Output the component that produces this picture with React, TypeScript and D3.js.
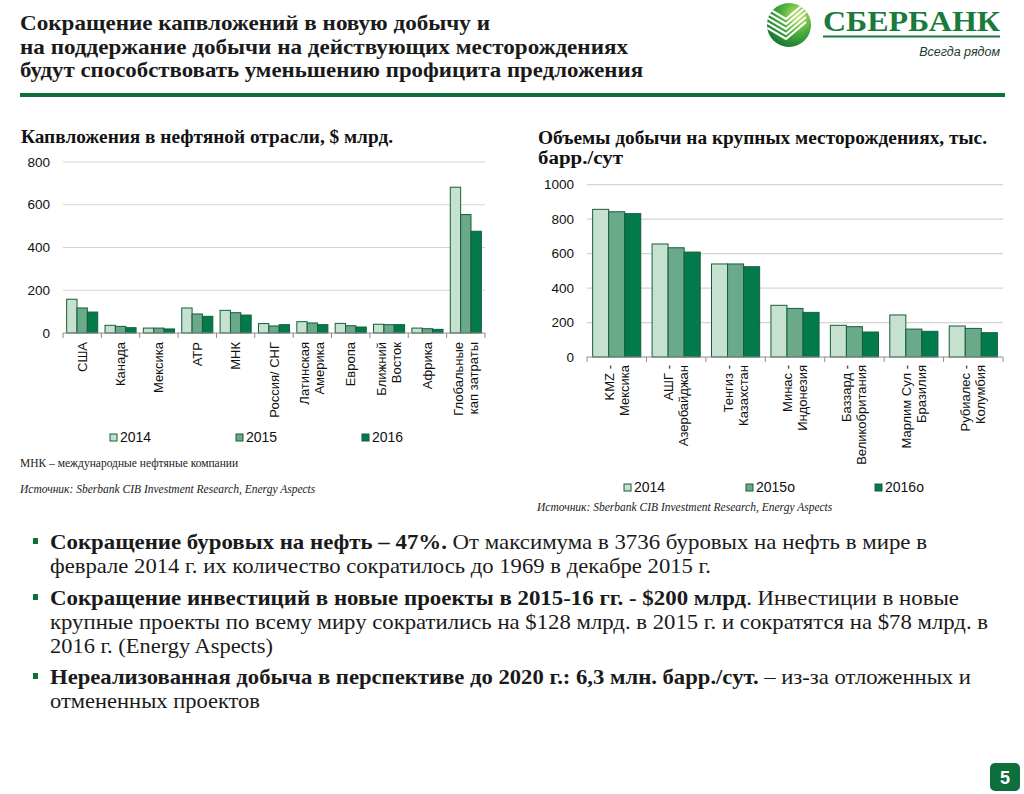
import React from "react";
import * as d3 from "d3";

// ---------- Data ----------
const capexCategories = [
  ["США"],
  ["Канада"],
  ["Мексика"],
  ["АТР"],
  ["МНК"],
  ["Россия/ СНГ"],
  ["Латинская", "Америка"],
  ["Европа"],
  ["Ближний", "Восток"],
  ["Африка"],
  ["Глобальные", "кап затраты"],
];
const capex2014 = [158, 36, 23, 117, 106, 44, 53, 45, 41, 23, 682];
const capex2015 = [117, 31, 23, 89, 95, 33, 47, 34, 39, 20, 554];
const capex2016 = [98, 25, 19, 78, 84, 39, 39, 28, 39, 17, 476];
const capexTicks = [0, 200, 400, 600, 800];
const capexSeriesNames = ["2014", "2015", "2016"];

const fieldCategories = [
  ["KMZ -", "Мексика"],
  ["АШГ -", "Азербайджан"],
  ["Тенгиз -", "Казахстан"],
  ["Минас -", "Индонезия"],
  ["Баззард -", "Великобритания"],
  ["Марлим Сул -", "Бразилия"],
  ["Рубиалес -", "Колумбия"],
];
const field2014 = [857, 656, 540, 300, 184, 244, 180];
const field2015 = [843, 634, 540, 282, 176, 162, 166];
const field2016 = [832, 609, 524, 259, 145, 149, 141];
const fieldTicks = [0, 200, 400, 600, 800, 1000];
const fieldSeriesNames = ["2014", "2015о", "2016о"];

const titleLines = [
  "Сокращение капвложений в новую добычу и",
  "на поддержание добычи на действующих месторождениях",
  "будут способствовать уменьшению профицита предложения",
];

const bullets = [
  [
    [{ b: "Сокращение буровых на нефть – 47%.", t: "  От максимума в 3736 буровых на нефть в мире в" }],
    [{ b: "", t: "феврале 2014 г. их количество сократилось до 1969 в декабре 2015 г." }],
  ],
  [
    [{ b: "Сокращение инвестиций в новые проекты в 2015-16 гг. - $200 млрд", t: ".  Инвестиции в новые" }],
    [{ b: "", t: "крупные проекты по всему миру сократились на $128 млрд. в 2015 г. и сократятся на $78 млрд. в" }],
    [{ b: "", t: "2016 г. (Energy Aspects)" }],
  ],
  [
    [{ b: "Нереализованная добыча в перспективе до 2020 г.: 6,3 млн. барр./сут.", t: " – из-за отложенных и" }],
    [{ b: "", t: "отмененных проектов" }],
  ],
];
const bulletLineWidths = [[877, 661], [909, 938, 223], [921, 210]];

// ---------- Styles ----------
const FILLS = ["#c6e1d0", "#6aa98a", "#037a4b"];
const STROKE = "#145f38";
const SANS = "'Liberation Sans', Arial, sans-serif";
const SERIF = "'Liberation Serif', 'Times New Roman', serif";

type ChartProps = {
  cats: string[][];
  series: number[][];
  names: string[];
  ticks: number[];
  x0: number; x1: number; yTop: number; yBottom: number;
  labelTop: number;
  legendY: number;
  legendX: number[];
};

function BarChart(p: ChartProps) {
  const max = p.ticks[p.ticks.length - 1];
  const y = d3.scaleLinear().domain([0, max]).range([p.yBottom, p.yTop]);
  const idx = p.cats.map((_, i) => String(i));
  const xg = d3.scaleBand().domain(idx).range([p.x0, p.x1]).paddingInner(0.19).paddingOuter(0.095);
  const xs = d3.scaleBand().domain(p.names).range([0, xg.bandwidth()]).padding(0);
  const step = xg.step();
  const start = xg.range()[0];
  return (
    <g>
      {p.ticks.map((t) => (
        <g key={t}>
          {t > 0 && <line x1={p.x0} x2={p.x1} y1={y(t)} y2={y(t)} stroke="#d4d4d4" strokeWidth={1.2} />}
          <text x={p.x0 - 13} y={y(t)} dy="0.35em" textAnchor="end" fontFamily={SANS} fontSize={13.5} fill="#111">{t}</text>
        </g>
      ))}
      {p.cats.map((_, i) =>
        p.names.map((n, s) => {
          const v = p.series[s][i];
          return (
            <rect key={i + "-" + s} x={(xg(String(i)) as number) + (xs(n) as number)} y={y(v)}
              width={xs.bandwidth()} height={y(0) - y(v)} fill={FILLS[s]} stroke={STROKE} strokeWidth={1} />
          );
        })
      )}
      <line x1={p.x0} x2={p.x1} y1={y(0)} y2={y(0)} stroke="#8c8c8c" strokeWidth={1} />
      {d3.range(p.cats.length + 1).map((i) => (
        <line key={i} x1={start + i * step} x2={start + i * step} y1={y(0)} y2={y(0) + 5} stroke="#8c8c8c" />
      ))}
      {p.cats.map((lines, i) => {
        const cx = (xg(String(i)) as number) + xg.bandwidth() / 2;
        return (
          <text key={i} transform={`translate(${cx},${p.labelTop}) rotate(-90)`} textAnchor="end"
            fontFamily={SANS} fontSize={13} fill="#111">
            {lines.map((l, j) => (
              <tspan key={j} x={0} y={(j - (lines.length - 1) / 2) * 15 + 4.5}>{l}</tspan>
            ))}
          </text>
        );
      })}
      {p.names.map((n, s) => (
        <g key={n}>
          <rect x={p.legendX[s]} y={p.legendY - 8} width={7} height={7} fill={FILLS[s]} stroke={STROKE} strokeWidth={1} />
          <text x={p.legendX[s] + 10} y={p.legendY} fontFamily={SANS} fontSize={14} fill="#111">{n}</text>
        </g>
      ))}
    </g>
  );
}

function Logo() {
  const stripes = [0, 1, 2, 3, 4];
  return (
    <g>
      <defs>
        <radialGradient id="lg" cx="0.7" cy="0.3" r="0.85">
          <stop offset="0" stopColor="#c7e86b" />
          <stop offset="0.45" stopColor="#4fae3c" />
          <stop offset="1" stopColor="#0a6b34" />
        </radialGradient>
        <clipPath id="lc"><circle cx={789} cy={25} r={22} /></clipPath>
      </defs>
      <circle cx={789} cy={25} r={22} fill="url(#lg)" />
      <g clipPath="url(#lc)">
        {stripes.map((k) => (
          <path key={k} d={`M ${764} ${6 + k * 5} L ${786} ${19 + k * 5} L ${806} ${4 + k * 5 - 2}`}
            fill="none" stroke="#fff" strokeWidth={2.2} />
        ))}
      </g>
      <text x={823} y={31} fontFamily={SERIF} fontWeight="bold" fontSize={29} fill="#1a7a3c"
        textLength={177} lengthAdjust="spacingAndGlyphs">СБЕРБАНК</text>
      <rect x={823} y={35.5} width={177} height={2} fill="#1a7a3c" />
      <text x={1000} y={56} textAnchor="end" fontFamily={SANS} fontStyle="italic" fontSize={12.5} fill="#1d3b2a">Всегда рядом</text>
    </g>
  );
}

export default function App() {
  const titleWidths = [470, 608, 623];
  return (
    <svg width={1024} height={794} style={{ position: "absolute", left: 0, top: 0, background: "#fff" }}>
      <rect width={1024} height={794} fill="#fff" />
      {titleLines.map((l, i) => (
        <text key={i} x={20} y={30 + i * 23.5} fontFamily={SERIF} fontWeight="bold" fontSize={21.5} fill="#1a1a1a"
          textLength={titleWidths[i]} lengthAdjust="spacingAndGlyphs">{l}</text>
      ))}
      <Logo />
      <rect x={20} y={93} width={985} height={4} fill="#0f6f3c" />

      <text x={21} y={143} fontFamily={SERIF} fontWeight="bold" fontSize={18} fill="#111"
        textLength={372} lengthAdjust="spacingAndGlyphs">Капвложения в нефтяной отрасли, $ млрд.</text>
      <text x={538} y={144} fontFamily={SERIF} fontWeight="bold" fontSize={18} fill="#111"
        textLength={449} lengthAdjust="spacingAndGlyphs">Объемы добычи на крупных месторождениях, тыс.</text>
      <text x={538} y={164} fontFamily={SERIF} fontWeight="bold" fontSize={18} fill="#111"
        textLength={85} lengthAdjust="spacingAndGlyphs">барр./сут</text>

      <BarChart cats={capexCategories} series={[capex2014, capex2015, capex2016]} names={capexSeriesNames}
        ticks={capexTicks} x0={63} x1={485} yTop={162} yBottom={333} labelTop={342} legendY={442}
        legendX={[110, 236, 362]} />
      <BarChart cats={fieldCategories} series={[field2014, field2015, field2016]} names={fieldSeriesNames}
        ticks={fieldTicks} x0={587} x1={1003} yTop={184.7} yBottom={357} labelTop={365} legendY={492}
        legendX={[624, 746, 875]} />

      <text x={20} y={467} fontFamily={SERIF} fontSize={11.5} fill="#222">МНК – международные нефтяные компании</text>
      <text x={20} y={493} fontFamily={SERIF} fontStyle="italic" fontSize={11.5} fill="#222">Источник: Sberbank CIB Investment Research, Energy Aspects</text>
      <text x={537} y={511} fontFamily={SERIF} fontStyle="italic" fontSize={11.5} fill="#222">Источник: Sberbank CIB Investment Research, Energy Aspects</text>

      {(() => {
        const starts = [549, 605, 684];
        return bullets.map((bl, bi) => (
          <g key={bi}>
            <rect x={33} y={starts[bi] - 11} width={5} height={6} fill="#0f6f3c" />
            {bl.map((line, li) => (
              <text key={li} x={50} y={starts[bi] + li * 24} fontFamily={SERIF} fontSize={21} fill="#1a1a1a"
                textLength={bulletLineWidths[bi][li]} lengthAdjust="spacingAndGlyphs">
                {line.map((seg, si) => (
                  <React.Fragment key={si}>
                    {seg.b && <tspan fontWeight="bold">{seg.b}</tspan>}
                    <tspan>{seg.t}</tspan>
                  </React.Fragment>
                ))}
              </text>
            ))}
          </g>
        ));
      })()}

      <rect x={990} y={763} width={30} height={28} rx={5} fill="#0f6f3c" />
      <text x={1005} y={784} textAnchor="middle" fontFamily={SANS} fontWeight="bold" fontSize={18} fill="#fff">5</text>
    </svg>
  );
}
